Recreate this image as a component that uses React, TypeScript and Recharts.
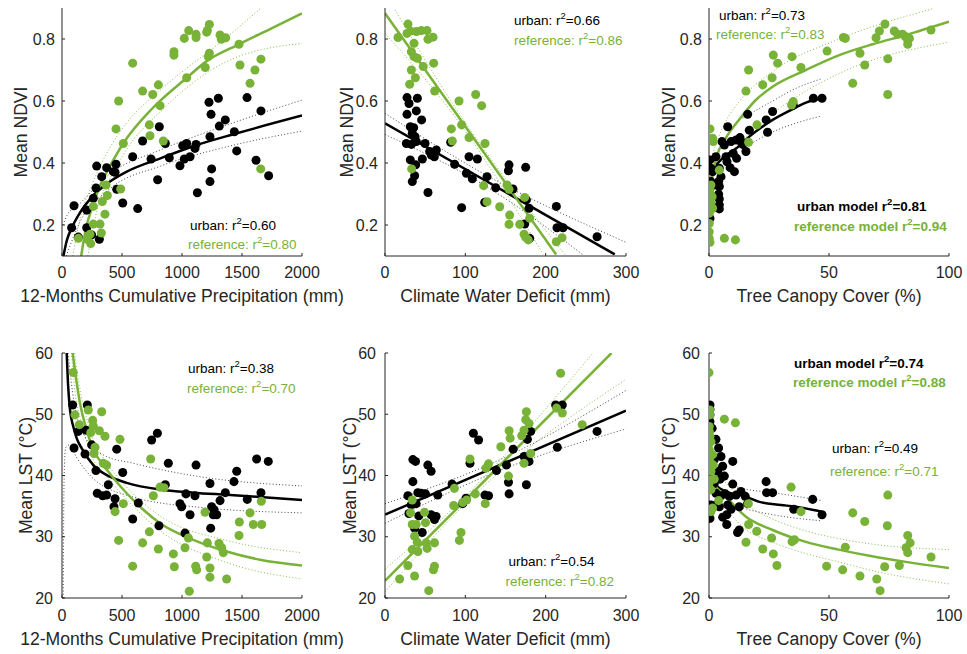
import React from "react";
import { ComposedChart, Scatter, Line, XAxis, YAxis, ReferenceDot } from "recharts";

type Pt = [number, number];

const GREEN = "#78b236";
const INK = "#262626";
const FONT = "'Liberation Sans', Arial, Helvetica, sans-serif";

// ---------- NDVI vs 12-month precipitation ----------
const ndviPrecipUrban: Pt[] = [
  [100, 0.262], [80, 0.191], [136, 0.161], [206, 0.191], [206, 0.248], [261, 0.286], [283, 0.319],
  [289, 0.39], [331, 0.356], [372, 0.385], [428, 0.372], [450, 0.396], [442, 0.37], [311, 0.154],
  [247, 0.168], [456, 0.315], [506, 0.271], [631, 0.253], [589, 0.42], [672, 0.471], [742, 0.413],
  [797, 0.346], [811, 0.517], [861, 0.463], [894, 0.417], [983, 0.391], [1019, 0.413], [1006, 0.456],
  [1039, 0.463], [1067, 0.42], [1117, 0.46], [1128, 0.304], [1108, 0.447], [1225, 0.596], [1242, 0.557],
  [1233, 0.485], [1247, 0.381], [1233, 0.34], [1303, 0.609], [1311, 0.519], [1361, 0.539], [1436, 0.501],
  [1456, 0.439], [1542, 0.611], [1617, 0.409], [1658, 0.568], [1722, 0.359],
];
const ndviPrecipRef: Pt[] = [
  [589, 0.722], [472, 0.6], [450, 0.51], [511, 0.463], [672, 0.632], [756, 0.621], [803, 0.652],
  [817, 0.585], [728, 0.523], [733, 0.488], [844, 0.471], [933, 0.759], [933, 0.748], [1019, 0.802],
  [1056, 0.827], [1117, 0.815], [1117, 0.805], [1211, 0.828], [1228, 0.847], [1206, 0.822], [1228, 0.754],
  [1219, 0.743], [1194, 0.708], [1039, 0.675], [1317, 0.813], [1328, 0.799], [1364, 0.804], [1475, 0.783],
  [1483, 0.716], [1658, 0.735], [1608, 0.7], [1567, 0.657], [1656, 0.381], [367, 0.329], [378, 0.295],
  [358, 0.235], [336, 0.276], [317, 0.203], [261, 0.203], [328, 0.174], [233, 0.17], [211, 0.154],
  [136, 0.157], [489, 0.316], [261, 0.26], [239, 0.14],
];
const ndviPrecipUrbanFit: Pt[] = [
  [12, 0.1], [40, 0.15], [80, 0.19], [150, 0.24], [260, 0.295], [400, 0.34], [540, 0.372],
  [820, 0.415], [1100, 0.455], [1450, 0.495], [2000, 0.553],
];
const ndviPrecipUrbanHi: Pt[] = [[8, 0.2], [40, 0.23], [150, 0.27], [400, 0.365], [820, 0.442], [1370, 0.522], [2000, 0.603]];
const ndviPrecipUrbanLo: Pt[] = [[35, 0.1], [150, 0.21], [400, 0.317], [820, 0.39], [1370, 0.452], [2000, 0.503]];
const ndviPrecipRefFit: Pt[] = [
  [160, 0.1], [200, 0.19], [250, 0.255], [320, 0.33], [400, 0.39], [510, 0.463], [750, 0.575],
  [1040, 0.675], [1200, 0.727], [1475, 0.783], [1750, 0.835], [2000, 0.883],
];
const ndviPrecipRefHi: Pt[] = [[90, 0.1], [150, 0.22], [250, 0.33], [400, 0.45], [540, 0.53], [820, 0.635], [1370, 0.805], [1660, 0.9]];
const ndviPrecipRefLo: Pt[] = [[215, 0.1], [300, 0.26], [400, 0.35], [540, 0.445], [820, 0.566], [1370, 0.727], [2000, 0.786]];

// ---------- NDVI vs climate water deficit ----------
const ndviCwdUrban: Pt[] = [
  [27.4, 0.611], [29.9, 0.592], [40.3, 0.609], [27.4, 0.557], [39, 0.568], [45.6, 0.539], [31.5, 0.517],
  [35.7, 0.514], [34, 0.496], [37.4, 0.485], [26.6, 0.463], [32.8, 0.46], [39, 0.469], [49.8, 0.463],
  [31.5, 0.41], [38.2, 0.394], [34, 0.34], [36.9, 0.359], [46.5, 0.413], [55.6, 0.437], [57.7, 0.426],
  [63.9, 0.442], [61.4, 0.42], [53.5, 0.305], [81.8, 0.467], [86.7, 0.396], [95.4, 0.256], [101.3, 0.367],
  [104.6, 0.42], [108.7, 0.349], [115, 0.413], [127, 0.356], [124.1, 0.273], [137.8, 0.32], [154.4, 0.394],
  [153.6, 0.375], [159.3, 0.316], [175.1, 0.386], [176, 0.281], [179.3, 0.254], [173.9, 0.203],
  [180.1, 0.157], [213.3, 0.26], [214.1, 0.191], [221.6, 0.191], [264, 0.162],
];
const ndviCwdRef: Pt[] = [
  [28.6, 0.848], [16.2, 0.805], [27.4, 0.818], [31.5, 0.826], [39, 0.824], [45.2, 0.827], [52.3, 0.827],
  [53.5, 0.799], [59.8, 0.806], [36.1, 0.786], [32.8, 0.759], [36.1, 0.743], [40.3, 0.738], [47.6, 0.711],
  [60.6, 0.722], [32.8, 0.7], [37.8, 0.675], [30.7, 0.654], [61.8, 0.632], [92.1, 0.6], [112.9, 0.621],
  [120.3, 0.585], [82.6, 0.51], [95.4, 0.523], [104.6, 0.482], [83.8, 0.471], [124.5, 0.463], [33.2, 0.381],
  [122.8, 0.327], [127, 0.275], [142.8, 0.259], [151.9, 0.329], [154.4, 0.315], [155.2, 0.232],
  [154.4, 0.202], [167.7, 0.202], [173.9, 0.289], [180.1, 0.222], [173.1, 0.17], [175.1, 0.16],
  [178.4, 0.152], [213.3, 0.146], [220.4, 0.159],
];
const ndviCwdUrbanFit: Pt[] = [[0, 0.528], [286, 0.105]];
const ndviCwdUrbanHi: Pt[] = [[0, 0.56], [130, 0.355], [300, 0.144]];
const ndviCwdUrbanLo: Pt[] = [[0, 0.492], [130, 0.318], [246, 0.105]];
const ndviCwdRefFit: Pt[] = [[0, 0.883], [213, 0.105]];
const ndviCwdRefHi: Pt[] = [[0, 0.948], [90, 0.569], [224, 0.105]];
const ndviCwdRefLo: Pt[] = [[0, 0.818], [90, 0.539], [197, 0.105]];

// ---------- NDVI vs tree canopy cover ----------
const ndviTreeUrban: Pt[] = [
  [47.1, 0.609], [43.5, 0.609], [35.1, 0.587], [26.5, 0.566], [23.8, 0.539], [24.4, 0.499], [16.1, 0.557],
  [16.8, 0.506], [7.8, 0.517], [5.4, 0.469], [6.4, 0.458], [9.2, 0.469], [11.3, 0.474], [12.9, 0.482],
  [14, 0.46], [10.1, 0.431], [11.5, 0.415], [7.1, 0.42], [10.6, 0.372], [8.8, 0.385], [2.9, 0.42],
  [0.4, 0.41], [0.8, 0.383], [1.5, 0.372], [4.3, 0.383], [5, 0.356], [4, 0.34], [2.2, 0.329], [4.3, 0.324],
  [4, 0.299], [4.3, 0.284], [4.3, 0.265], [2.2, 0.256], [0.1, 0.248], [0.4, 0.221], [0.8, 0.34],
  [0.1, 0.308], [4.3, 0.252], [15.4, 0.437], [13.3, 0.469], [7.5, 0.404],
];
const ndviTreeRef: Pt[] = [
  [0.4, 0.51], [1.5, 0.48], [1.8, 0.469], [0.8, 0.329], [0.4, 0.313], [1.3, 0.291], [0.8, 0.27],
  [1.5, 0.254], [0.1, 0.238], [0.1, 0.205], [0.1, 0.178], [0.1, 0.157], [0.4, 0.144], [6.4, 0.157],
  [11, 0.152], [4.3, 0.377], [16.5, 0.467], [20, 0.523], [15.4, 0.632], [16.5, 0.7], [22.4, 0.652],
  [26.3, 0.675], [26.8, 0.748], [28.6, 0.722], [34.6, 0.743], [38.3, 0.708], [35.1, 0.598], [34.4, 0.587],
  [49.2, 0.761], [56, 0.805], [56.8, 0.802], [59.9, 0.657], [62.9, 0.754], [64.9, 0.716], [69.6, 0.804],
  [71, 0.826], [73.3, 0.848], [74.5, 0.736], [74.5, 0.621], [77.2, 0.826], [78.6, 0.815], [80.7, 0.815],
  [81.8, 0.808], [82.8, 0.797], [83.5, 0.802], [82.8, 0.783], [92.5, 0.829],
];
const ndviTreeUrbanFit: Pt[] = [
  [0.5, 0.33], [2, 0.38], [4.3, 0.405], [8, 0.43], [11.3, 0.447], [16.8, 0.485], [26.5, 0.539],
  [34.9, 0.574], [40.4, 0.595], [47, 0.607],
];
const ndviTreeUrbanHi: Pt[] = [[14, 0.545], [26.5, 0.6], [36, 0.64], [47, 0.672]];
const ndviTreeUrbanLo: Pt[] = [[14, 0.445], [26.5, 0.5], [36, 0.528], [47, 0.552]];
const ndviTreeRefFit: Pt[] = [
  [0.3, 0.31], [3, 0.416], [7, 0.48], [12.6, 0.54], [19.6, 0.604], [26.5, 0.646], [40.4, 0.7],
  [54.3, 0.748], [68.2, 0.783], [82, 0.813], [100, 0.856],
];
const ndviTreeRefHi: Pt[] = [[1, 0.42], [6, 0.52], [12.6, 0.598], [26.5, 0.695], [54.3, 0.8], [93, 0.897]];
const ndviTreeRefLo: Pt[] = [[1, 0.34], [6, 0.41], [12.6, 0.463], [26.5, 0.559], [54.3, 0.689], [100, 0.79]];

// ---------- LST vs 12-month precipitation ----------
const lstPrecipUrban: Pt[] = [
  [89, 51.5], [211, 51.5], [100, 44.5], [136, 47.2], [200, 47.4], [192, 43.5], [247, 45], [283, 40.8],
  [294, 37.1], [339, 36.7], [372, 36.8], [386, 38.5], [442, 36.2], [456, 44.3], [433, 34.9], [506, 40.5],
  [589, 32.9], [636, 35.5], [747, 45.8], [795, 46.9], [808, 31.8], [861, 38.5], [886, 42], [983, 35.4],
  [997, 34.9], [1025, 30.6], [1033, 37], [1067, 33.6], [1117, 41.7], [1108, 36.7], [1233, 38.7],
  [1247, 34.9], [1267, 34.4], [1239, 31.4], [1261, 33.6], [1289, 33.6], [1317, 35.9], [1361, 37.2],
  [1433, 39], [1456, 40.7], [1544, 36.1], [1622, 42.7], [1658, 37.2], [1719, 42.3],
];
const lstPrecipRef: Pt[] = [
  [94, 56.8], [108, 49.9], [144, 48.3], [219, 50.7], [256, 49], [261, 48.1], [239, 47], [311, 47.3],
  [331, 50.4], [358, 46.4], [275, 44.6], [267, 43.6], [344, 42], [372, 41.7], [483, 45.9], [442, 34.1],
  [511, 35.4], [472, 29.4], [672, 29], [728, 30.8], [739, 42.7], [761, 36.7], [817, 38.1], [850, 38],
  [803, 28], [589, 25.2], [928, 27.2], [936, 25.1], [1025, 28.2], [1053, 29.8], [1061, 21.1], [1114, 25.2],
  [1122, 24.6], [1206, 26.7], [1233, 24.9], [1192, 34], [1211, 29], [1233, 23.4], [1308, 28.9],
  [1331, 28.2], [1344, 27.4], [1372, 23.1], [1478, 32.4], [1475, 30.2], [1567, 33.9], [1594, 32],
  [1664, 32], [1661, 35.8],
];
const lstPrecipUrbanFit: Pt[] = [
  [39, 60], [50, 55], [67, 50.7], [94, 48], [122, 46.1], [172, 44.2], [261, 41.7], [400, 39.8],
  [539, 38.8], [817, 37.7], [1094, 37.2], [1372, 36.85], [1650, 36.5], [2000, 36],
];
const lstPrecipUrbanHi: Pt[] = [[50, 60], [100, 52], [200, 46], [350, 43.3], [594, 42], [1150, 39.8], [2000, 38.3]];
const lstPrecipUrbanLo: Pt[] = [
  [10, 20], [18, 40], [30, 44.5], [60, 45], [120, 43], [260, 39.5], [590, 36.5], [1150, 34.8], [2000, 33.9],
];
const lstPrecipRefFit: Pt[] = [
  [89, 60], [120, 55.5], [150, 51.8], [206, 47.4], [261, 44.2], [344, 41.7], [428, 39.6], [539, 37.1],
  [678, 34.4], [817, 32.2], [1094, 29.5], [1372, 27.6], [1650, 26.25], [2000, 25.3],
];
const lstPrecipRefHi: Pt[] = [
  [105, 60], [150, 54], [206, 49.3], [261, 45.8], [344, 42.9], [539, 38.1], [817, 33.4], [1372, 29.4], [2000, 27.4],
];
const lstPrecipRefLo: Pt[] = [
  [78, 60], [120, 52], [150, 49.5], [206, 45.5], [261, 42.6], [344, 40.5], [539, 36.1], [817, 31], [1372, 25.8], [2000, 23.1],
];

// ---------- LST vs climate water deficit ----------
const lstCwdUrban: Pt[] = [
  [28.5, 36.7], [34.7, 39], [34.7, 42.6], [38, 42.3], [53.3, 41.7], [57.4, 40.7], [40.9, 37.2], [45, 37.1],
  [50.4, 37], [32.6, 35.2], [38.8, 35.4], [29.8, 33.8], [42.1, 33.4], [36.8, 31.4], [46.3, 30.7],
  [57.4, 33.6], [63.6, 33.3], [61.6, 32.8], [65.7, 36.8], [83.5, 38.6], [96.7, 35.4], [100.8, 36.3],
  [105.8, 42], [110, 46.9], [116.5, 45.8], [124.4, 36.8], [128.9, 36.7], [138.8, 40.8], [151.2, 41.7],
  [153.7, 38.9], [154.5, 37], [159.5, 44.3], [173.1, 43.1], [176, 38.5], [177.3, 45.9], [181.4, 47.2],
  [179.3, 42.3], [212.4, 51.5], [220.7, 51.5], [214.5, 44.6], [264, 47.2],
];
const lstCwdRef: Pt[] = [
  [218.6, 56.7], [213.6, 51], [220.7, 50.2], [245.5, 48.3], [176, 50.4], [175.2, 49.1], [179.3, 48.5],
  [170.2, 46.5], [173.1, 47.4], [154.5, 47.3], [155.8, 46.1], [144.2, 44.7], [181.4, 43.6], [173.1, 42],
  [128.9, 41.9], [105.8, 42.7], [125.6, 41.2], [153.7, 39.9], [112.4, 37], [86.4, 37.9], [101.7, 36],
  [96.7, 35.6], [124.8, 35.4], [85.5, 35.1], [94.6, 30.7], [92.6, 29.4], [33.9, 36], [31.8, 33.9],
  [49.2, 34], [50.4, 32.3], [33.9, 32], [38.8, 32], [36.8, 30.1], [40.1, 29.1], [33.9, 27.9], [40.9, 27.6],
  [51.2, 29], [61.6, 29], [52.5, 28.1], [28.5, 25.3], [36.8, 23.6], [18.2, 23.1], [61.6, 25.2],
  [60.3, 24.6], [54.5, 21.2],
];
const lstCwdUrbanFit: Pt[] = [[0, 33.6], [300, 50.6]];
const lstCwdUrbanHi: Pt[] = [[0, 35.4], [150, 43], [300, 53.9]];
const lstCwdUrbanLo: Pt[] = [[0, 32.2], [150, 41.2], [300, 47.6]];
const lstCwdRefFit: Pt[] = [[0, 22.8], [282, 60]];
const lstCwdRefHi: Pt[] = [[0, 24.7], [100, 36.6], [259, 60]];
const lstCwdRefLo: Pt[] = [[0, 21], [100, 35.4], [300, 55.7]];

// ---------- LST vs tree canopy cover ----------
const lstTreeUrban: Pt[] = [
  [0.4, 51.5], [0.4, 50.8], [0.4, 49.9], [0.4, 48.8], [1.3, 47.7], [2.9, 45.9], [4, 44.5], [0.8, 43.1],
  [2.2, 42.6], [5, 43.1], [5.7, 41.5], [9.9, 42.3], [3.6, 40.7], [4.6, 39.4], [2.2, 38.7], [6.4, 39.9],
  [9.9, 38.6], [2.9, 37.1], [5, 36.7], [6.8, 37], [8.5, 36.6], [11.3, 36.8], [13.3, 37.4], [15.1, 36.6],
  [16.1, 35.4], [12.6, 34.9], [0.8, 35.2], [2.6, 35.1], [4.3, 34.9], [7.8, 35.2], [9.2, 34.5], [7.4, 33.6],
  [5.7, 33.2], [0.4, 33], [7.4, 32], [12.6, 31.1], [11.9, 30.7], [23.8, 39], [24, 37.2], [26.5, 37.2],
  [35.3, 34.5], [43.2, 36.1], [47.1, 33.6],
];
const lstTreeRef: Pt[] = [
  [0, 56.8], [0.4, 50.7], [0.4, 49.9], [6.4, 49.2], [11, 48.6], [0.1, 48], [0.1, 47.2], [0.4, 46.4],
  [0.8, 45.5], [0.1, 44.2], [1.5, 43.4], [0.4, 42.3], [1.8, 41.7], [0.8, 40.7], [0.1, 38.8], [0.8, 37.7],
  [2.2, 39.4], [4, 35.9], [1.5, 34.7], [0.8, 34.1], [34.2, 38.1], [16.4, 35.4], [38.3, 34.1], [16.5, 32],
  [19.9, 30.9], [26.1, 29.8], [35.6, 29.5], [34.6, 29.2], [15.4, 29.1], [22.4, 28], [26.8, 27.2],
  [28.3, 25.3], [49, 25.2], [55.7, 24.6], [56.8, 28.3], [59.9, 33.9], [64.9, 32.5], [62.9, 23.6],
  [69.9, 23.1], [71.3, 21.2], [73.2, 25.1], [74.5, 36.8], [74.3, 31.8], [79.3, 25.3], [82.8, 30.2],
  [83.8, 29], [82.1, 28.2], [82.8, 27.4], [92.5, 26.7],
];
const lstTreeUrbanFit: Pt[] = [[0.3, 42], [1, 40.2], [3, 38.4], [7, 37.4], [15, 36.6], [21, 35.7], [30, 35.2], [36, 34.9], [47, 34.1]];
const lstTreeUrbanHi: Pt[] = [[8, 38.6], [15, 37.8], [26.5, 37.2], [47, 35.9]];
const lstTreeUrbanLo: Pt[] = [[8, 35.6], [15, 34.6], [26.5, 33.6], [47, 32.6]];
const lstTreeRefFit: Pt[] = [
  [0.3, 41.2], [2, 38.8], [7, 36.6], [15, 33.4], [26.5, 31.1], [40, 29.2], [54, 27.9], [68, 26.8], [82, 25.9], [100, 24.9],
];
const lstTreeRefHi: Pt[] = [[2, 40.8], [7, 38.8], [15, 35.5], [26.5, 32.9], [40, 31], [54, 29.7], [70, 28.7], [100, 27.9]];
const lstTreeRefLo: Pt[] = [[2, 36.6], [7, 34.5], [15, 31.3], [26.5, 29.1], [40, 27.3], [54, 25.9], [70, 24.3], [100, 22.3]];

// ---------- axes ----------
const precipTicks = [0, 500, 1000, 1500, 2000];
const cwdTicks = [0, 100, 200, 300];
const treeTicks = [0, 50, 100];
const ndviTicks = [0.2, 0.4, 0.6, 0.8];
const lstTicks = [20, 30, 40, 50, 60];

const xy = (pts: Pt[]) => pts.map(([x, y]) => ({ x, y }));

type Note = { x: number; y: number; text: string; r2: string; color: string; bold?: boolean };

function NoteText({ viewBox, note }: any) {
  if (!viewBox) return null;
  return (
    <text x={viewBox.x} y={viewBox.y} fill={note.color} fontSize={13.5} fontFamily={FONT} fontWeight={note.bold ? 700 : 400}>
      {note.text} r<tspan dy={-6} fontSize={9.5}>2</tspan>
      <tspan dy={6}>={note.r2}</tspan>
    </text>
  );
}

function YTitle({ viewBox, text, gap }: any) {
  if (!viewBox) return null;
  const x = viewBox.x + viewBox.width - gap;
  const y = viewBox.y + viewBox.height / 2;
  return (
    <text x={x} y={y} transform={`rotate(-90 ${x} ${y})`} textAnchor="middle" fill={INK} fontSize={17.6} fontFamily={FONT}>
      {text}
    </text>
  );
}

type PanelProps = {
  left: number; top: number; width: number; height: number; marginTop: number; marginRight: number;
  xDomain: [number, number]; xTicks: number[]; yDomain: [number, number]; yTicks: number[];
  xLabel: string; yLabel: string; yLabelGap: number; xLabelOffset: number; xTickMargin: number; yTickMargin: number;
  urban: Pt[]; reference: Pt[];
  urbanFit: Pt[]; urbanHi: Pt[]; urbanLo: Pt[]; refFit: Pt[]; refHi: Pt[]; refLo: Pt[];
  notes: Note[];
};

function Panel(p: PanelProps) {
  const tick = { fontSize: 16, fill: INK, fontFamily: FONT };
  const dotted = (data: Pt[], color: string, key: string) => (
    <Line key={key} data={xy(data)} dataKey="y" type="monotone" stroke={color} strokeWidth={0.9}
      strokeDasharray="1 2.2" dot={false} activeDot={false} isAnimationActive={false} />
  );
  return (
    <div style={{ position: "absolute", left: p.left, top: p.top }}>
      <ComposedChart width={p.width} height={p.height}
        margin={{ top: p.marginTop, right: p.marginRight, bottom: 10, left: 0 }}>
        <XAxis type="number" dataKey="x" domain={p.xDomain} ticks={p.xTicks} interval={0} allowDataOverflow height={50}
          tick={tick} tickSize={-3} tickMargin={p.xTickMargin} axisLine={{ stroke: INK }} tickLine={{ stroke: INK }}
          label={{ value: p.xLabel, position: "insideBottom", offset: p.xLabelOffset, fill: INK, fontSize: 17.6, fontFamily: FONT }} />
        <YAxis type="number" dataKey="y" domain={p.yDomain} ticks={p.yTicks} interval={0} allowDataOverflow width={62}
          tick={tick} tickSize={-3} tickMargin={p.yTickMargin} axisLine={{ stroke: INK }} tickLine={{ stroke: INK }}
          label={{ content: (lp: any) => <YTitle {...lp} text={p.yLabel} gap={p.yLabelGap} /> }} />
        <Scatter data={xy(p.urban)} fill="#000000" isAnimationActive={false} />
        <Scatter data={xy(p.reference)} fill={GREEN} isAnimationActive={false} />
        {dotted(p.urbanHi, "#333333", "uh")}
        {dotted(p.urbanLo, "#333333", "ul")}
        {dotted(p.refHi, GREEN, "rh")}
        {dotted(p.refLo, GREEN, "rl")}
        <Line data={xy(p.urbanFit)} dataKey="y" type="monotone" stroke="#000000" strokeWidth={2.5}
          dot={false} activeDot={false} isAnimationActive={false} />
        <Line data={xy(p.refFit)} dataKey="y" type="monotone" stroke={GREEN} strokeWidth={2.5}
          dot={false} activeDot={false} isAnimationActive={false} />
        {p.notes.map((n, i) => (
          <ReferenceDot key={i} x={n.x} y={n.y} r={0} fill="none" stroke="none"
            label={{ content: (lp: any) => <NoteText {...lp} note={n} /> }} />
        ))}
      </ComposedChart>
    </div>
  );
}

// wide right margins leave room for the long x titles; the svgs overlap harmlessly
const COLS = [
  { left: 0, width: 362, marginRight: 60 },
  { left: 323, width: 363, marginRight: 60 },
  { left: 647, width: 320, marginRight: 18 },
];
const TOP = { top: 0, height: 316, marginTop: 8, xLabelOffset: 4, xTickMargin: 14, yTickMargin: 10 };
const BOTTOM = { top: 343, height: 315, marginTop: 10, xLabelOffset: 3, xTickMargin: 15, yTickMargin: 12 };

const NDVI_DOMAIN: [number, number] = [0.1, 0.9];
const LST_DOMAIN: [number, number] = [20, 60];

export default function App() {
  return (
    <div style={{ position: "absolute", left: 0, top: 0, width: 967, height: 654, background: "#ffffff", overflow: "hidden" }}>
      <Panel {...COLS[0]} {...TOP} xDomain={[0, 2000]} xTicks={precipTicks} yDomain={NDVI_DOMAIN} yTicks={ndviTicks}
        xLabel="12-Months Cumulative Precipitation (mm)" yLabel="Mean NDVI" yLabelGap={35}
        urban={ndviPrecipUrban} reference={ndviPrecipRef}
        urbanFit={ndviPrecipUrbanFit} urbanHi={ndviPrecipUrbanHi} urbanLo={ndviPrecipUrbanLo}
        refFit={ndviPrecipRefFit} refHi={ndviPrecipRefHi} refLo={ndviPrecipRefLo}
        notes={[
          { x: 1067, y: 0.185, text: "urban:", r2: "0.60", color: "#000000" },
          { x: 1050, y: 0.124, text: "reference:", r2: "0.80", color: GREEN },
        ]} />
      <Panel {...COLS[1]} {...TOP} xDomain={[0, 300]} xTicks={cwdTicks} yDomain={NDVI_DOMAIN} yTicks={ndviTicks}
        xLabel="Climate Water Deficit (mm)" yLabel="Mean NDVI" yLabelGap={32}
        urban={ndviCwdUrban} reference={ndviCwdRef}
        urbanFit={ndviCwdUrbanFit} urbanHi={ndviCwdUrbanHi} urbanLo={ndviCwdUrbanLo}
        refFit={ndviCwdRefFit} refHi={ndviCwdRefHi} refLo={ndviCwdRefLo}
        notes={[
          { x: 160.6, y: 0.845, text: "urban:", r2: "0.66", color: "#000000" },
          { x: 160.6, y: 0.782, text: "reference:", r2: "0.86", color: GREEN },
        ]} />
      <Panel {...COLS[2]} {...TOP} xDomain={[0, 100]} xTicks={treeTicks} yDomain={NDVI_DOMAIN} yTicks={ndviTicks}
        xLabel="Tree Canopy Cover (%)" yLabel="Mean NDVI" yLabelGap={34}
        urban={ndviTreeUrban} reference={ndviTreeRef}
        urbanFit={ndviTreeUrbanFit} urbanHi={ndviTreeUrbanHi} urbanLo={ndviTreeUrbanLo}
        refFit={ndviTreeRefFit} refHi={ndviTreeRefHi} refLo={ndviTreeRefLo}
        notes={[
          { x: 4.2, y: 0.86, text: "urban:", r2: "0.73", color: "#000000" },
          { x: 2.9, y: 0.8, text: "reference:", r2: "0.83", color: GREEN },
          { x: 36.7, y: 0.244, text: "urban model", r2: "0.81", color: "#000000", bold: true },
          { x: 35.4, y: 0.182, text: "reference model", r2: "0.94", color: GREEN, bold: true },
        ]} />
      <Panel {...COLS[0]} {...BOTTOM} xDomain={[0, 2000]} xTicks={precipTicks} yDomain={LST_DOMAIN} yTicks={lstTicks}
        xLabel="12-Months Cumulative Precipitation (mm)" yLabel="Mean LST (°C)" yLabelGap={30}
        urban={lstPrecipUrban} reference={lstPrecipRef}
        urbanFit={lstPrecipUrbanFit} urbanHi={lstPrecipUrbanHi} urbanLo={lstPrecipUrbanLo}
        refFit={lstPrecipRefFit} refHi={lstPrecipRefHi} refLo={lstPrecipRefLo}
        notes={[
          { x: 1050, y: 56.8, text: "urban:", r2: "0.38", color: "#000000" },
          { x: 1042, y: 53.55, text: "reference:", r2: "0.70", color: GREEN },
        ]} />
      <Panel {...COLS[1]} {...BOTTOM} xDomain={[0, 300]} xTicks={cwdTicks} yDomain={LST_DOMAIN} yTicks={lstTicks}
        xLabel="Climate Water Deficit (mm)" yLabel="Mean LST (°C)" yLabelGap={29}
        urban={lstCwdUrban} reference={lstCwdRef}
        urbanFit={lstCwdUrbanFit} urbanHi={lstCwdUrbanHi} urbanLo={lstCwdUrbanLo}
        refFit={lstCwdRefFit} refHi={lstCwdRefHi} refLo={lstCwdRefLo}
        notes={[
          { x: 153.7, y: 25.3, text: "urban:", r2: "0.54", color: "#000000" },
          { x: 150, y: 22, text: "reference:", r2: "0.82", color: GREEN },
        ]} />
      <Panel {...COLS[2]} {...BOTTOM} xDomain={[0, 100]} xTicks={treeTicks} yDomain={LST_DOMAIN} yTicks={lstTicks}
        xLabel="Tree Canopy Cover (%)" yLabel="Mean LST (°C)" yLabelGap={34}
        urban={lstTreeUrban} reference={lstTreeRef}
        urbanFit={lstTreeUrbanFit} urbanHi={lstTreeUrbanHi} urbanLo={lstTreeUrbanLo}
        refFit={lstTreeRefFit} refHi={lstTreeRefHi} refLo={lstTreeRefLo}
        notes={[
          { x: 35.4, y: 57.5, text: "urban model", r2: "0.74", color: "#000000", bold: true },
          { x: 35, y: 54.4, text: "reference model", r2: "0.88", color: GREEN, bold: true },
          { x: 51.3, y: 43.6, text: "urban:", r2: "0.49", color: "#000000" },
          { x: 50.4, y: 40, text: "reference:", r2: "0.71", color: GREEN },
        ]} />
    </div>
  );
}
